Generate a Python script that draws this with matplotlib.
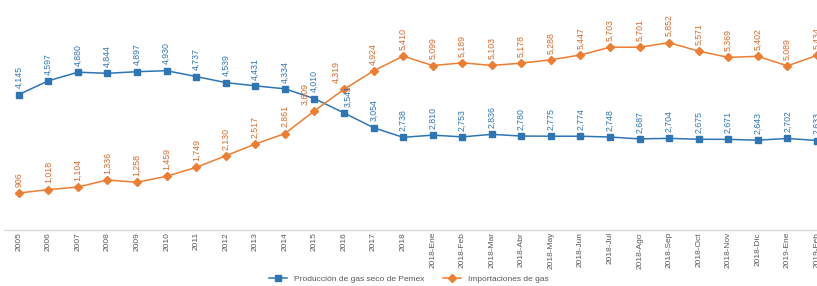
import matplotlib
matplotlib.use("Agg")
import matplotlib.pyplot as plt

plt.rcParams['font.family'] = ['Liberation Sans', 'DejaVu Sans']

# categories
periodos = ["2005", "2006", "2007", "2008", "2009", "2010", "2011", "2012", "2013",
            "2014", "2015", "2016", "2017", "2018",
            "2018-Ene", "2018-Feb", "2018-Mar", "2018-Abr", "2018-May", "2018-Jun",
            "2018-Jul", "2018-Ago", "2018-Sep", "2018-Oct", "2018-Nov", "2018-Dic",
            "2019-Ene", "2019-Feb"]

produccion = [4145, 4597, 4880, 4844, 4897, 4930, 4737, 4539, 4431, 4334, 4010, 3541,
              3054, 2738, 2810, 2753, 2836, 2780, 2775, 2774, 2748, 2687, 2704, 2675,
              2671, 2643, 2702, 2633]
importaciones = [906, 1018, 1104, 1336, 1258, 1459, 1749, 2130, 2517, 2861, 3609, 4319,
                 4924, 5410, 5099, 5189, 5103, 5178, 5288, 5447, 5703, 5701, 5852, 5571,
                 5369, 5402, 5089, 5434]

azul = "#2E75B6"
naranja = "#ED7D31"

fig = plt.figure(figsize=(8.17, 2.86), dpi=100)
ax = fig.add_axes([4 / 817, 1 - 230 / 286, 1 - 4 / 817, 230 / 286])

x = list(range(len(periodos)))
ax.plot(x, produccion, color=azul, lw=1.1, marker="s", ms=4.2,
        label="Producción de gas seco de Pemex", clip_on=False, zorder=3)
ax.plot(x, importaciones, color=naranja, lw=1.1, marker="D", ms=3.6,
        label="Importaciones de gas", clip_on=False, zorder=3)

# label nudges (points) for a few crowded labels
dx_azul = {11: 3}
dx_imp = {10: -7, 11: -6}

for i, v in enumerate(produccion):
    ax.annotate("{:,}".format(v), (i, v), xytext=(dx_azul.get(i, 0), 4.5),
                textcoords="offset points", rotation=90, ha="center", va="bottom",
                fontsize=6.3, color=azul, annotation_clip=False)
for i, v in enumerate(importaciones):
    ax.annotate("{:,}".format(v), (i, v), xytext=(dx_imp.get(i, 0), 4.5),
                textcoords="offset points", rotation=90, ha="center", va="bottom",
                fontsize=6.3, color="#D9692A", annotation_clip=False)

ax.set_xlim(-0.5, 27.0)
ax.set_ylim(-310, 7255)
ax.set_xticks(x)
ax.set_xticklabels(periodos, rotation=90, fontsize=6, color="#595959")
ax.tick_params(axis="x", length=0, pad=1.5)
ax.set_yticks([])
for s in ["top", "right", "left"]:
    ax.spines[s].set_visible(False)
ax.spines["bottom"].set_color("#D9D9D9")
ax.spines["bottom"].set_linewidth(1.0)
ax.patch.set_alpha(0)

leg = fig.legend(loc="center", bbox_to_anchor=(0.5, 1 - 279 / 286), ncol=2,
                 frameon=False, fontsize=6, handlelength=2.2, columnspacing=2.2)
for t in leg.get_texts():
    t.set_color("#595959")

fig.savefig("out.png", dpi=100)
